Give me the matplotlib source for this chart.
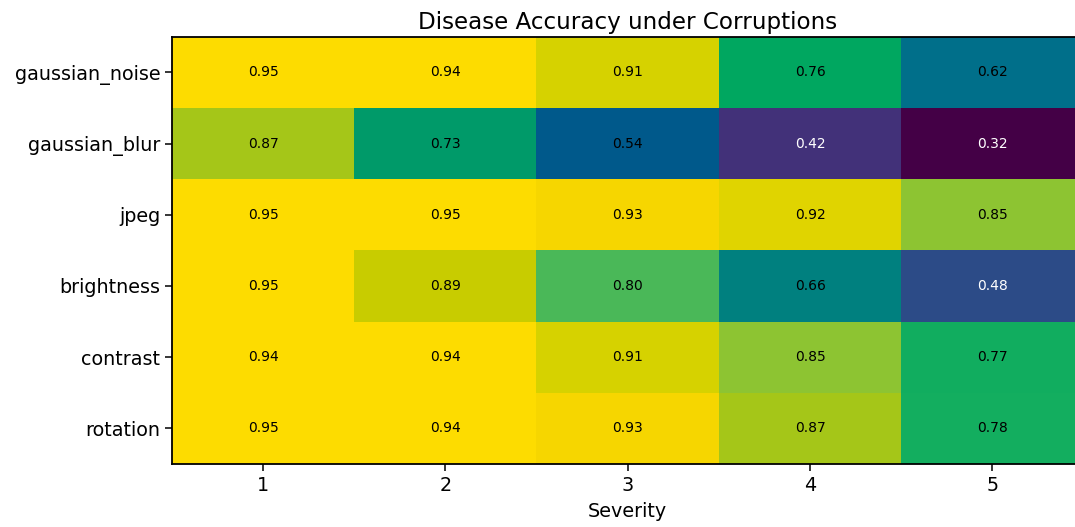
import numpy as np
import matplotlib.pyplot as plt
from matplotlib.colors import LinearSegmentedColormap

corruptions = ['gaussian_noise', 'gaussian_blur', 'jpeg', 'brightness', 'contrast', 'rotation']
severities = [1, 2, 3, 4, 5]

gaussian_noise = [0.95, 0.94, 0.91, 0.76, 0.62]
gaussian_blur = [0.87, 0.73, 0.54, 0.42, 0.32]
jpeg = [0.95, 0.95, 0.93, 0.92, 0.85]
brightness = [0.95, 0.89, 0.80, 0.66, 0.48]
contrast = [0.94, 0.94, 0.91, 0.85, 0.77]
rotation = [0.95, 0.94, 0.93, 0.87, 0.78]

acc = np.array([gaussian_noise, gaussian_blur, jpeg, brightness, contrast, rotation])

# vivid viridis-like ramp
vmin, vmax = 0.32, 0.95
ramp = [(0.32, '#440046'), (0.42, '#42327a'), (0.48, '#2d4b87'), (0.54, '#005a8c'),
        (0.62, '#00708a'), (0.66, '#008080'), (0.73, '#009a6a'), (0.76, '#00a860'),
        (0.77, '#12ae5f'), (0.78, '#14af5f'), (0.80, '#48b85a'), (0.85, '#8cc434'),
        (0.87, '#a4c61a'), (0.89, '#c8cc00'), (0.91, '#d6d200'), (0.92, '#e0d400'),
        (0.93, '#f6d600'), (0.94, '#fddc00'), (0.95, '#fddc00')]
cmap = LinearSegmentedColormap.from_list(
    'vivid', [((v - vmin) / (vmax - vmin), c) for v, c in ramp])

fig = plt.figure(figsize=(10.75, 5.27), dpi=100)
ax = fig.add_axes([0.16, 0.12, 0.848, 0.81])
ax.imshow(acc, cmap=cmap, vmin=vmin, vmax=vmax, aspect='auto')

for i in range(acc.shape[0]):
    for j in range(acc.shape[1]):
        v = acc[i, j]
        ax.text(j, i, '%.2f' % v, ha='center', va='center', fontsize=10,
                color='white' if v < 0.5 else 'black')

ax.set_xticks(range(len(severities)))
ax.set_xticklabels([str(s) for s in severities], fontsize=13.8)
ax.set_yticks(range(len(corruptions)))
ax.set_yticklabels(corruptions, fontsize=13.8)
ax.tick_params(length=5, width=1.1)
for s in ax.spines.values():
    s.set_linewidth(1.3)
ax.set_xlabel('Severity', fontsize=13.8, labelpad=5)
ax.set_title('Disease Accuracy under Corruptions', fontsize=16.6, pad=6)

plt.savefig('out.png', dpi=100)
